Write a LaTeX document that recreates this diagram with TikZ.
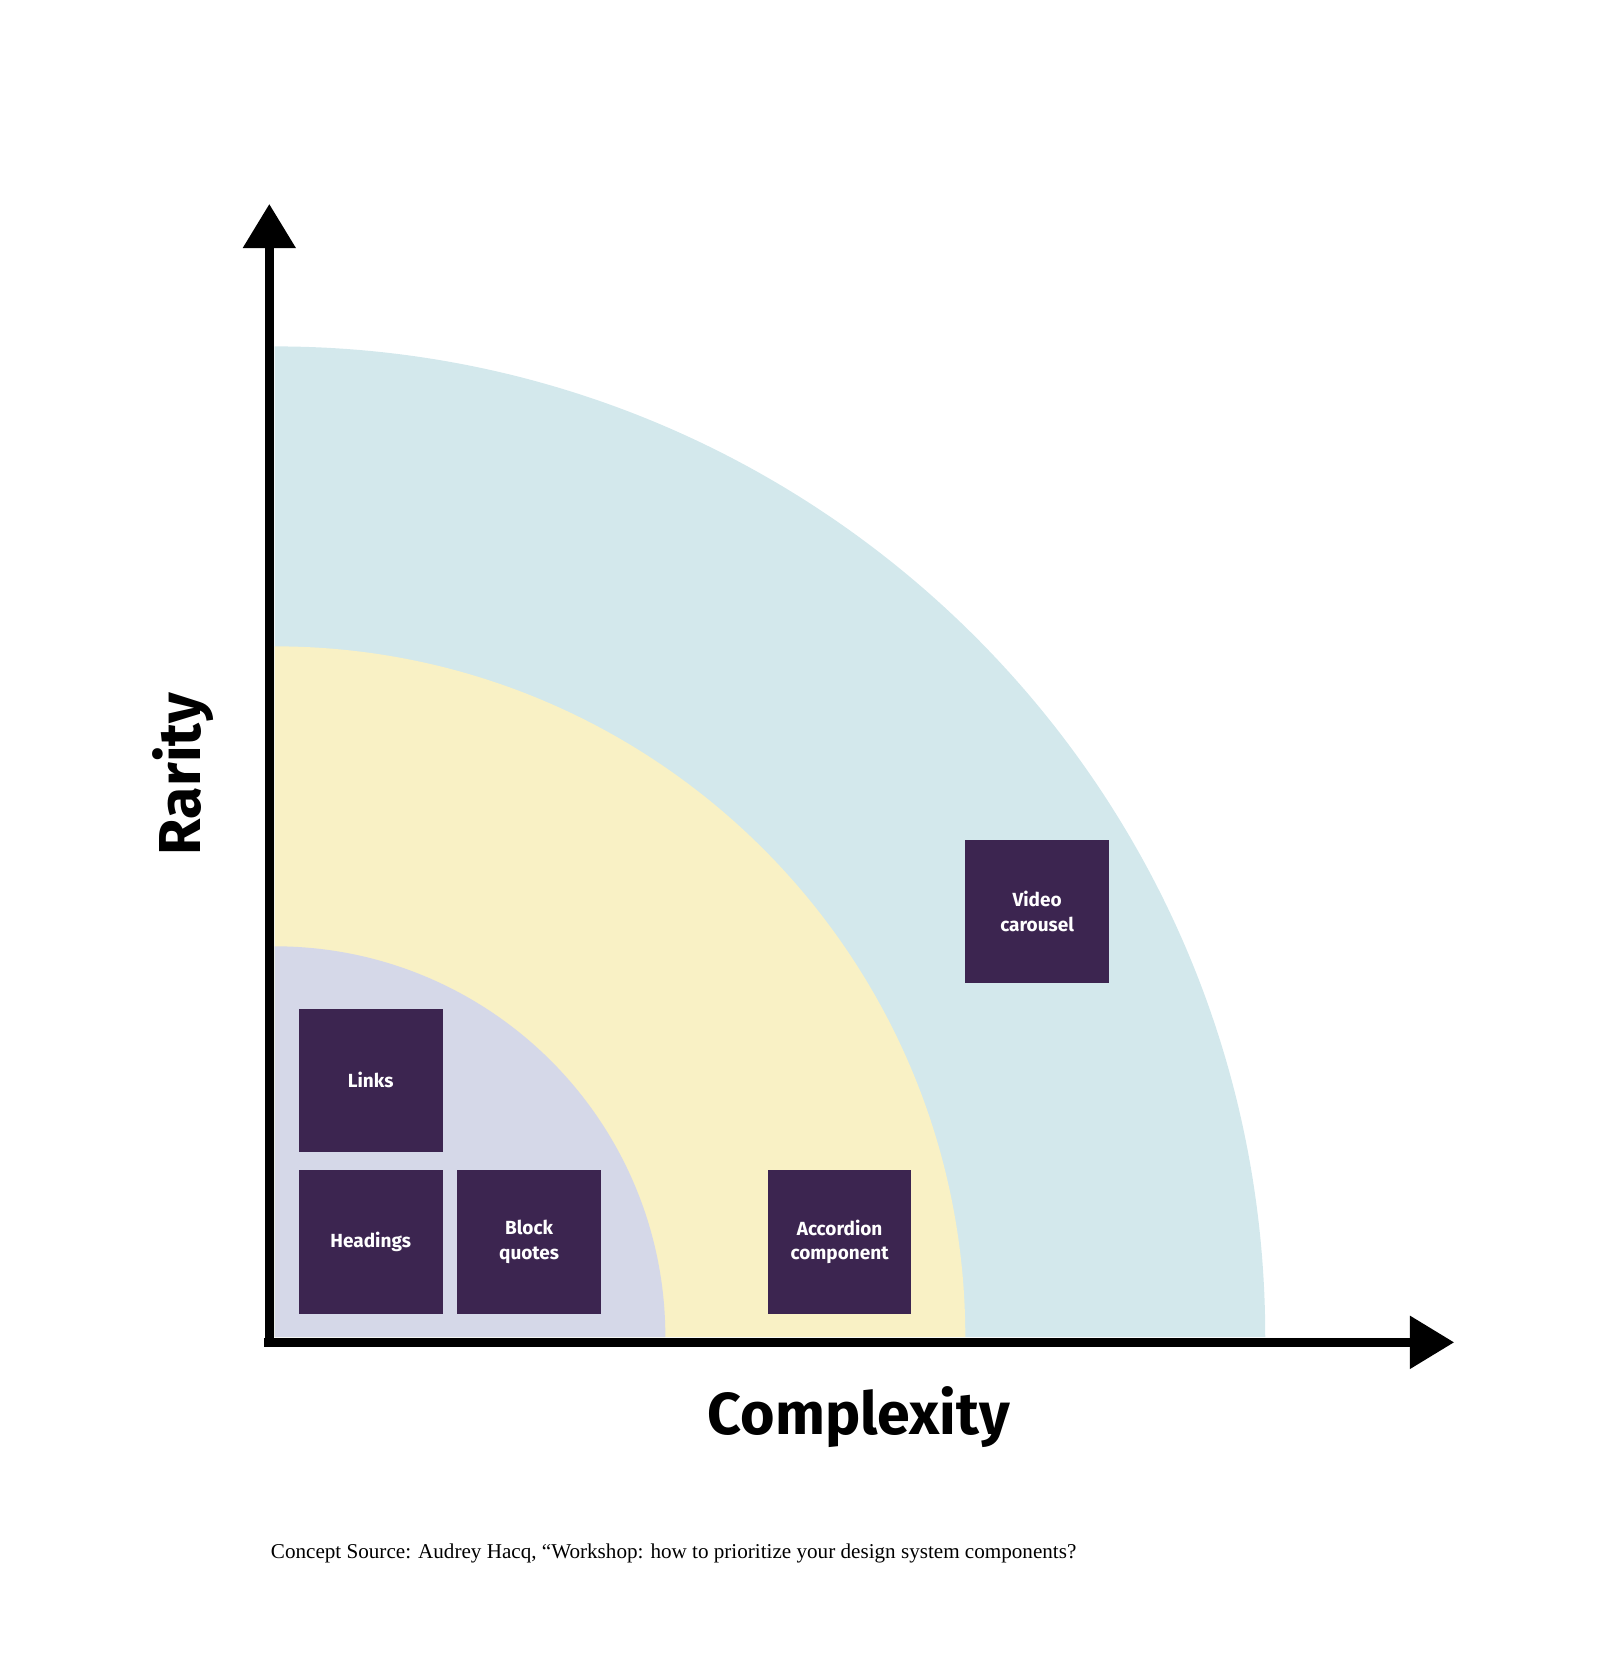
\documentclass[tikz,border=0pt]{standalone}
\usepackage{fontspec}
\setsansfont{Fira Sans}
\setmainfont{Liberation Serif}
\usetikzlibrary{arrows.meta}
\definecolor{ringblue}{HTML}{D3E8EC}
\definecolor{ringyellow}{HTML}{F9F1C5}
\definecolor{ringlilac}{HTML}{D5D8E8}
\definecolor{boxfill}{HTML}{3C2550}
\tikzset{
    comp/.style={fill=boxfill, minimum size=136pt, inner sep=0pt, text=white,
        font=\sffamily\bfseries\fontsize{18}{23}\selectfont, align=center},
    axis/.style={line width=9pt, -{Triangle[length=42pt,width=48pt]}}
}
\begin{document}
\begin{tikzpicture}[x=1pt,y=-1pt]
    \useasboundingbox (0,0) rectangle (1518,1568);

    \coordinate (O) at (260,1266);
    \fill[ringblue] (O) -- ++(938,0) arc[start angle=0,end angle=90,x radius=938,y radius=-938] -- cycle;
    \fill[ringyellow] (O) -- ++(654,0) arc[start angle=0,end angle=90,x radius=654,y radius=-654] -- cycle;
    \fill[ringlilac] (O) -- ++(370,0) arc[start angle=0,end angle=90,x radius=370,y radius=-370] -- cycle;

    \coordinate (corner) at (250,1271);
    \coordinate (ytip) at (255,193);
    \coordinate (xtip) at (1377,1271);
    \draw[axis] (255,1275.5) -- (ytip);
    \draw[axis] (corner) -- (xtip);

    \node[comp] (links) at (351,1023) {Links};
    \node[comp] (headings) at (351,1176) {Headings};
    \node[comp] (quotes) at (501,1176) {Block\\quotes};
    \node[comp] (accordion) at (795,1176) {Accordion\\component};
    \node[comp] (video) at (982,863) {Video\\carousel};

    \node[font=\sffamily\bfseries\fontsize{56}{60}\selectfont] (xlabel) at (813,1342) {Complexity};
    \node[font=\sffamily\bfseries\fontsize{56}{60}\selectfont, rotate=90] (ylabel) at (173,733) {Rarity};
    \node[anchor=west, font=\fontsize{20}{24}\selectfont] (source) at (253,1471)
        {Concept Source: Audrey Hacq, “Workshop: how to prioritize your design system components?};
\end{tikzpicture}
\end{document}
